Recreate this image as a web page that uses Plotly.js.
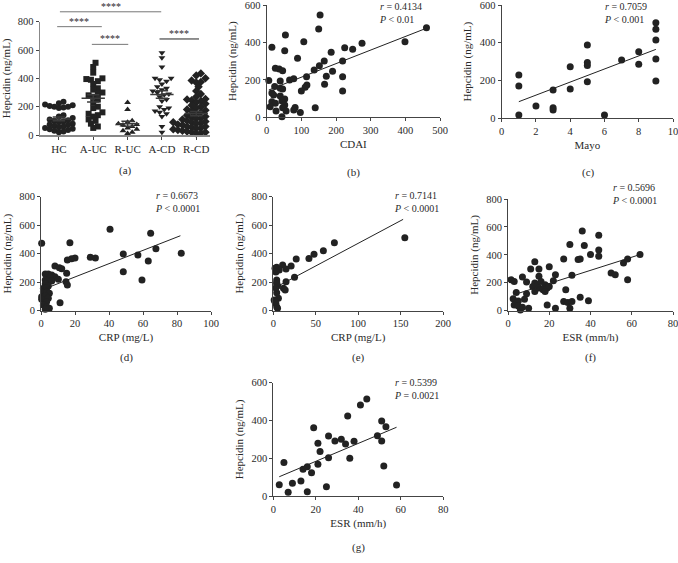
<!DOCTYPE html>
<html><head><meta charset="utf-8">
<script src="https://cdn.plot.ly/plotly-3.0.1.min.js"></script>
<style>html,body{margin:0;padding:0;background:#fff}</style>
</head><body><div id="chart" style="width:678px;height:563px"></div>
<script>
// ---------- Panel (a): hepcidin by group ----------
const groupLabels = ['HC', 'A-UC', 'R-UC', 'A-CD', 'R-CD'];
const groupSymbols = ['circle', 'square', 'triangle-up', 'triangle-down', 'diamond'];
const hcValues = [235,225,215,210,205,200,200,195,190,140,130,120,110,105,100,95,90,80,75,70,65,60,55,50,45,40,35,30,25,20];
const aucValues = [510,480,440,400,395,390,380,360,330,320,300,290,280,270,250,230,200,190,160,150,140,130,110,100,80,60,50];
const rucValues = [230,180,100,90,80,75,70,60,50,40,30,20,10];
const acdValues = [580,545,480,400,400,390,380,360,340,330,320,310,300,290,285,270,250,240,200,190,180,170,160,150,130,60,20];
const rcdValues = [435,420,400,385,375,370,340,310,290,270,260,255,250,245,240,230,220,210,200,190,180,175,170,160,150,140,130,125,120,115,110,100,100,95,90,90,85,80,80,75,70,70,65,60,60,55,50,50,45,40,40,35,30,30,25,25,20,20,15,10];
const sigPairs = [[0.03, 2.98], [-0.05, 1.25], [0.96, 2.02], [2.93, 4.08]];
const sigHeights = [870, 765, 640, 678];
const sigText = ['****', '****', '****', '****'];

// ---------- Panel (b): CDAI ----------
const cdaiX = [154,150,54,15,52,107,275,89,225,248,186,25,36,46,137,152,166,219,190,115,172,219,39,66,78,6,116,111,167,100,219,23,39,46,20,15,39,52,44,15,25,10,52,46,82,78,140,27,56,97,44,399,461];
const cdaiY = [547,472,440,374,356,404,396,315,372,364,348,262,258,249,253,276,301,301,246,217,219,217,194,199,206,196,173,160,176,141,141,164,155,151,119,130,114,98,87,83,75,57,66,51,53,39,51,34,34,25,3,404,479];
const cdaiFitX = [6, 461];
const cdaiFitY = [146, 476];
const cdaiStats = ['<i>r</i> = 0.4134', '<i>P</i> < 0.01'];

// ---------- Panel (c): Mayo ----------
const mayoX = [1,1,1,2,3,3,3,4,4,5,5,5,5,6,7,8,8,9,9,9,9,9];
const mayoY = [229,171,17,65,150,56,44,273,155,388,295,279,194,17,309,353,286,506,471,415,314,198];
const mayoFitX = [1, 9];
const mayoFitY = [88, 365];
const mayoStats = ['<i>r</i> = 0.7059', '<i>P</i> < 0.001'];

// ---------- Panel (d): CRP ----------
const crpDX = [0.4,40.6,17,15.5,18,20,29,32,8.2,10.8,12.2,2.5,4.3,6.3,8.2,5.3,2.5,4.3,6.3,10.2,15.1,14.7,15.5,2.5,4.3,1.4,3.3,1.4,3.3,4.9,0.4,2.5,4.3,0.4,3.3,1.4,3.3,4.9,2.5,11.2,48.4,48.4,57,59.4,64.5,63.1,67.6,82.5];
const crpDY = [473,571,477,356,365,370,375,370,314,302,295,258,258,251,239,234,215,211,208,220,262,203,180,187,173,157,157,133,133,122,98,103,87,80,63,40,28,17,10,56,398,274,391,215,543,349,435,403];
const crpDFitX = [1.4, 82];
const crpDFitY = [150, 526];
const crpDStats = ['<i>r</i> = 0.6673', '<i>P</i> < 0.0001'];

// ---------- Panel (e): CRP ----------
const crpEX = [155,72,59,48,42,27,21,11,15,4,7,3,2,4,4,5,25,15,12,14,4,6,1,3,4,5,3,2,4,3];
const crpEY = [512,477,421,396,367,363,314,321,293,305,286,280,298,215,198,175,234,204,157,145,126,87,75,52,28,17,272,62,188,160];
const crpEFitX = [4, 153];
const crpEFitY = [168, 641];
const crpEStats = ['<i>r</i> = 0.7141', '<i>P</i> < 0.0001'];

// ---------- Panel (f): ESR ----------
const esrFX = [36,44,30,37,44,40,44,34,35,27,13,20,11,15,7,15,23,31,1.5,3,9,13,14,16,18,22,12,15,17,19,20,13,18,28,4,9,2.5,8,5,3,5,7,10,19,23,27,29,31,30,35,39,6,50,52,56,58,58,64];
const esrFY = [571,540,475,467,434,402,390,366,371,371,350,314,299,299,241,246,258,253,222,210,205,198,186,210,186,215,173,162,150,162,173,137,137,150,130,121,85,82,70,41,34,25,17,41,17,65,58,65,17,97,72,5,270,258,342,371,222,402];
const esrFFitX = [2.6, 64];
const esrFFitY = [113, 402];
const esrFStats = ['<i>r</i> = 0.5696', '<i>P</i> < 0.0001'];

// ---------- Panel (g): ESR ----------
const esrGX = [2.8,5,7,9,13,14,16,16,18,19,21,21,22,25,26,26,29,32,34,35,36,38,41,44,49,51,51,52,53,58];
const esrGY = [60,178,20,67,79,141,155,23,123,362,279,168,235,49,318,203,291,300,275,424,200,290,482,514,319,397,291,159,367,58];
const esrGFitX = [2.8, 58];
const esrGFitY = [102, 364];
const esrGStats = ['<i>r</i> = 0.5399', '<i>P</i> = 0.0021'];

// ---------- layout helpers ----------
const W = 678, H = 563;
const FONT = 'Liberation Serif';
const INK = '#222';
const TXT = '#2a2a2a';
function dX(l, r) { return [l / W, r / W]; }
function dY(top, bot) { return [1 - bot / H, 1 - top / H]; }
function axis(domain, range, anchor, title, extra) {
  return Object.assign({
    domain: domain, range: range, anchor: anchor,
    showline: true, linecolor: '#444', linewidth: 1,
    ticks: 'outside', ticklen: 3, tickwidth: 1, tickcolor: '#444',
    showgrid: false, zeroline: false, fixedrange: true, ticklabeloverflow: 'allow',
    tickfont: {family: FONT, size: 10.5, color: TXT},
    title: {text: title, font: {family: FONT, size: 11, color: TXT}, standoff: 5}
  }, extra || {});
}

const pA = {x: [40, 210], y: [21.7, 135], xr: [-0.55, 4.4], yr: [0, 800]};
const pxPerCat = (pA.x[1] - pA.x[0]) / (pA.xr[1] - pA.xr[0]);
const pxPerVal = (pA.y[1] - pA.y[0]) / (pA.yr[1] - pA.yr[0]);

function swarm(values, center, diam) {
  const order = values.map((v, i) => i).sort((a, b) => values[a] - values[b]);
  const placed = [];
  const xs = new Array(values.length);
  const step = diam * 0.5;
  for (const i of order) {
    const ypx = values[i] * pxPerVal;
    let off = 0;
    for (let t = 0; t < 400; t++) {
      off = t === 0 ? 0 : (t % 2 === 1 ? 1 : -1) * Math.ceil(t / 2) * step;
      if (placed.every(p => (p.x - off) ** 2 + (p.y - ypx) ** 2 >= diam * diam)) break;
    }
    placed.push({x: off, y: ypx});
    xs[i] = center + off / pxPerCat;
  }
  return xs;
}

const groups = [hcValues, aucValues, rucValues, acdValues, rcdValues];
const traces = [];
groups.forEach((vals, g) => {
  traces.push({
    type: 'scatter', mode: 'markers', xaxis: 'x', yaxis: 'y',
    x: swarm(vals, g, 4.6), y: vals, cliponaxis: false,
    marker: {symbol: groupSymbols[g], size: g === 4 ? 6.5 : 6, color: INK},
    hoverinfo: 'skip'
  });
});
// mean ± SEM
const mx = [], my = [];
groups.forEach((vals, g) => {
  const n = vals.length;
  const mean = vals.reduce((a, b) => a + b, 0) / n;
  const sd = Math.sqrt(vals.reduce((a, b) => a + (b - mean) ** 2, 0) / (n - 1));
  const sem = sd / Math.sqrt(n);
  mx.push(g - 0.34, g + 0.34, null, g - 0.18, g + 0.18, null, g - 0.18, g + 0.18, null, g, g, null);
  my.push(mean, mean, null, mean + sem, mean + sem, null, mean - sem, mean - sem, null, mean - sem, mean + sem, null);
});
traces.push({type: 'scatter', mode: 'lines', xaxis: 'x', yaxis: 'y', x: mx, y: my,
  line: {color: '#3a3a3a', width: 1.5}, cliponaxis: false, hoverinfo: 'skip'});

function scatterPanel(xa, ya, xs, ys, fx, fy) {
  traces.push({type: 'scatter', mode: 'markers', xaxis: xa, yaxis: ya, x: xs, y: ys,
    cliponaxis: false, marker: {size: 7, color: INK}, hoverinfo: 'skip'});
  traces.push({type: 'scatter', mode: 'lines', xaxis: xa, yaxis: ya, x: fx, y: fy,
    cliponaxis: false, line: {color: INK, width: 1}, hoverinfo: 'skip'});
}
scatterPanel('x2', 'y2', cdaiX, cdaiY, cdaiFitX, cdaiFitY);
scatterPanel('x3', 'y3', mayoX, mayoY, mayoFitX, mayoFitY);
scatterPanel('x4', 'y4', crpDX, crpDY, crpDFitX, crpDFitY);
scatterPanel('x5', 'y5', crpEX, crpEY, crpEFitX, crpEFitY);
scatterPanel('x6', 'y6', esrFX, esrFY, esrFFitX, esrFFitY);
scatterPanel('x7', 'y7', esrGX, esrGY, esrGFitX, esrGFitY);

// significance brackets (paper coords derived from panel (a) scale)
const shapes = [], annotations = [];
function catToPaper(c) { return (pA.x[0] + (c - pA.xr[0]) * pxPerCat) / W; }
function valToPaper(v) { return 1 - (pA.y[1] - v * pxPerVal) / H; }
sigPairs.forEach((pr, i) => {
  const yp = valToPaper(sigHeights[i]);
  shapes.push({type: 'line', xref: 'paper', yref: 'paper', x0: catToPaper(pr[0]), x1: catToPaper(pr[1]),
    y0: yp, y1: yp, line: {color: i === 3 ? '#222' : '#777', width: 1}});
  annotations.push({xref: 'paper', yref: 'paper', x: (catToPaper(pr[0]) + catToPaper(pr[1])) / 2, y: yp,
    yanchor: 'bottom', xanchor: 'center', yshift: -2, text: sigText[i], showarrow: false,
    font: {family: FONT, size: 10, color: TXT}});
});

function stat(lines, xpx, ytop) {
  annotations.push({xref: 'paper', yref: 'paper', x: xpx / W, y: 1 - ytop / H, xanchor: 'left', yanchor: 'top',
    align: 'left', text: lines[0] + '<br>' + lines[1], showarrow: false,
    font: {family: FONT, size: 10, color: TXT}});
}
stat(cdaiStats, 377, -1);
stat(mayoStats, 602, -1);
stat(crpDStats, 153, 188);
stat(crpEStats, 392, 188);
stat(esrFStats, 610, 180);
stat(esrGStats, 392, 375);

const panelLetters = [['(a)', 125, 171], ['(b)', 353, 172], ['(c)', 588, 172], ['(d)', 126, 357],
  ['(e)', 358, 357], ['(f)', 590, 357], ['(g)', 358, 547]];
panelLetters.forEach(p => annotations.push({xref: 'paper', yref: 'paper', x: p[1] / W, y: 1 - p[2] / H,
  xanchor: 'center', yanchor: 'middle', text: p[0], showarrow: false, font: {family: FONT, size: 11, color: TXT}}));

const HEP = 'Hepcidin (ng/mL)';
const layout = {
  width: W, height: H, margin: {l: 0, r: 0, t: 0, b: 0}, paper_bgcolor: '#fff', plot_bgcolor: 'rgba(0,0,0,0)',
  showlegend: false, font: {family: FONT, color: TXT},
  xaxis: axis(dX(40, 210), pA.xr, 'y', '', {tickvals: [0, 1, 2, 3, 4], ticktext: groupLabels, tickfont: {family: FONT, size: 11, color: TXT}, linecolor: '#888', linewidth: 1.5}),
  yaxis: axis(dY(21.7, 135), pA.yr, 'x', HEP, {dtick: 200, linecolor: '#888', linewidth: 1.5}),
  xaxis2: axis(dX(266.7, 440), [0, 500], 'y2', 'CDAI', {dtick: 100}),
  yaxis2: axis(dY(5, 117.3), [0, 600], 'x2', HEP, {dtick: 200}),
  xaxis3: axis(dX(501.7, 673), [0, 10], 'y3', 'Mayo', {dtick: 2}),
  yaxis3: axis(dY(5, 118.3), [0, 600], 'x3', HEP, {dtick: 200}),
  xaxis4: axis(dX(41, 211), [0, 100], 'y4', 'CRP (mg/L)', {dtick: 20}),
  yaxis4: axis(dY(196.7, 310.7), [0, 800], 'x4', HEP, {dtick: 200}),
  xaxis5: axis(dX(273.3, 443), [0, 200], 'y5', 'CRP (mg/L)', {dtick: 50}),
  yaxis5: axis(dY(196.7, 310.7), [0, 800], 'x5', HEP, {dtick: 200}),
  xaxis6: axis(dX(508, 673), [0, 80], 'y6', 'ESR (mm/h)', {dtick: 20}),
  yaxis6: axis(dY(199, 310.7), [0, 800], 'x6', HEP, {dtick: 200}),
  xaxis7: axis(dX(273.3, 443.3), [0, 80], 'y7', 'ESR (mm/h)', {dtick: 20}),
  yaxis7: axis(dY(382.7, 496), [0, 600], 'x7', HEP, {dtick: 200}),
  shapes: shapes, annotations: annotations
};
Plotly.newPlot('chart', traces, layout, {staticPlot: true, displayModeBar: false});
</script>
</body></html>
